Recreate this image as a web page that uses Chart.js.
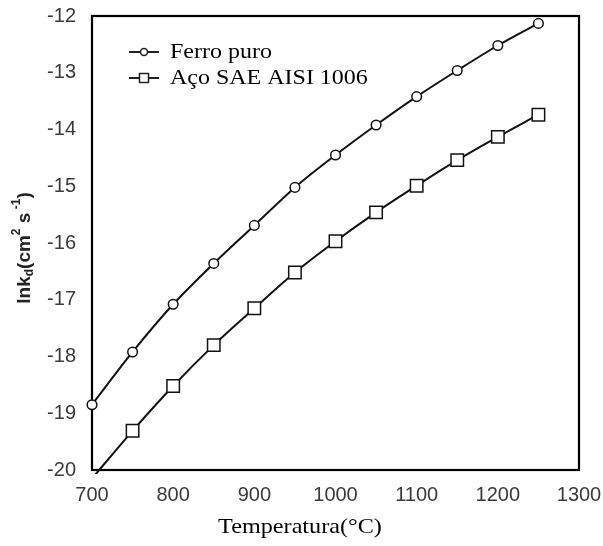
<!DOCTYPE html>
<html>
<head>
<meta charset="utf-8">
<script src="https://cdn.jsdelivr.net/npm/chart.js@4/dist/chart.umd.min.js"></script>
<style>
  html, body { margin: 0; padding: 0; background: #fff; }
  #wrap { width: 603px; height: 546px; }
</style>
</head>
<body>
<div id="wrap"><canvas id="c" width="603" height="546"></canvas></div>
<script>
const temperatures = [700, 750, 800, 850, 900, 950, 1000, 1050, 1100, 1150, 1200, 1250];
const ferroPuro = [-18.85, -17.92, -17.08, -16.36, -15.69, -15.02, -14.45, -13.92, -13.42, -12.96, -12.52, -12.13];
const acoSAE1006 = [-20.15, -19.31, -18.52, -17.80, -17.15, -16.52, -15.97, -15.46, -14.99, -14.54, -14.13, -13.74];
const xTicks = [700, 800, 900, 1000, 1100, 1200, 1300];
const yTicks = [-20, -19, -18, -17, -16, -15, -14, -13, -12];
const seriesNames = ['Ferro puro', 'Aço SAE AISI 1006'];
const xTitle = 'Temperatura(°C)';

const pts = (ys) => temperatures.map((t, i) => ({ x: t, y: ys[i] }));

const frameAndText = {
  id: 'frameAndText',
  beforeDatasetsDraw(chart) {
    const { ctx, chartArea: a } = chart;
    ctx.save();
    ctx.strokeStyle = '#000';
    ctx.lineWidth = 2.2;
    ctx.strokeRect(a.left, a.top, a.right - a.left, a.bottom - a.top);
    ctx.restore();
  },
  afterDraw(chart) {
    const { ctx } = chart;
    ctx.save();
    ctx.fillStyle = '#000';
    ctx.font = '22px "Liberation Serif"';
    ctx.textAlign = 'center';
    ctx.textBaseline = 'middle';
    ctx.save();
    ctx.translate(300, 527);
    ctx.scale(1.1, 1);
    ctx.fillText(xTitle, 0, 0);
    ctx.restore();

    const segs = [
      ['lnk', 0, 19], ['d', 5, 12], ['(cm', 0, 19], ['2', -8, 12],
      [' s', 0, 19], [' -1', -8, 12], [')', 0, 19]
    ];
    let total = 0;
    segs.forEach(s => { ctx.font = 'bold ' + s[2] + 'px "Liberation Sans"'; total += ctx.measureText(s[0]).width; });
    ctx.translate(25, 248);
    ctx.rotate(-Math.PI / 2);
    ctx.textAlign = 'left';
    ctx.textBaseline = 'middle';
    let x = -total / 2;
    segs.forEach(s => {
      ctx.font = 'bold ' + s[2] + 'px "Liberation Sans"';
      ctx.fillStyle = '#222';
      ctx.fillText(s[0], x, s[1]);
      x += ctx.measureText(s[0]).width;
    });
    ctx.restore();

    ctx.save();
    const items = [
      { y: 52, style: 'circle', r: 3.5 },
      { y: 78, style: 'rect' }
    ];
    items.forEach((it, i) => {
      ctx.strokeStyle = '#222';
      ctx.lineWidth = 2;
      ctx.beginPath();
      ctx.moveTo(129, it.y); ctx.lineTo(159, it.y);
      ctx.stroke();
      ctx.fillStyle = '#fff';
      ctx.lineWidth = 1.5;
      ctx.beginPath();
      if (it.style === 'circle') {
        ctx.arc(144, it.y, it.r, 0, Math.PI * 2);
      } else {
        ctx.rect(144 - 4.5, it.y - 4.5, 9, 9);
      }
      ctx.fill(); ctx.stroke();
      ctx.fillStyle = '#000';
      ctx.font = '22px "Liberation Serif"';
      ctx.textAlign = 'left';
      ctx.textBaseline = 'middle';
      ctx.save();
      ctx.translate(170, it.y);
      ctx.scale(1.09, 1);
      ctx.fillText(seriesNames[i], 0, 0);
      ctx.restore();
    });
    ctx.restore();
  }
};

new Chart(document.getElementById('c'), {
  type: 'line',
  data: {
    datasets: [
      {
        label: seriesNames[0],
        data: pts(ferroPuro),
        borderColor: '#111',
        borderWidth: 2,
        pointStyle: 'circle',
        pointRadius: 4.8,
        pointBorderWidth: 1.5,
        pointBackgroundColor: '#fff',
        pointBorderColor: '#111',
        cubicInterpolationMode: 'monotone',
        clip: false
      },
      {
        label: seriesNames[1],
        data: pts(acoSAE1006),
        borderColor: '#111',
        borderWidth: 2,
        pointStyle: 'rect',
        pointRadius: temperatures.map((t, i) => i === 0 ? 0 : 8.8),
        pointBorderWidth: 1.5,
        pointBackgroundColor: '#fff',
        pointBorderColor: '#111',
        cubicInterpolationMode: 'monotone',
        clip: { left: 0, top: 0, right: 0, bottom: 4 }
      }
    ]
  },
  options: {
    responsive: false,
    animation: false,
    layout: { padding: { left: 0, right: 24, top: 16, bottom: 0 } },
    plugins: { legend: { display: false }, tooltip: { enabled: false } },
    scales: {
      x: {
        type: 'linear',
        min: 700, max: 1300,
        afterBuildTicks: (s) => { s.ticks = xTicks.map(v => ({ value: v })); },
        afterFit: (s) => { s.height = 76; s.paddingLeft = 0; s.paddingRight = 0; },
        grid: { display: false, drawOnChartArea: false, drawTicks: true, tickLength: 5, color: '#bbb' },
        border: { display: false },
        ticks: { font: { family: 'Liberation Sans', size: 20 }, color: '#3a3a3a', padding: 8, maxRotation: 0,
                 callback: (v) => String(v) }
      },
      y: {
        min: -20, max: -12,
        afterBuildTicks: (s) => { s.ticks = yTicks.map(v => ({ value: v })); },
        afterFit: (s) => { s.width = 92; s.paddingTop = 0; s.paddingBottom = 0; },
        grid: { display: false, drawOnChartArea: false, drawTicks: true, tickLength: 5, color: '#bbb' },
        border: { display: false },
        ticks: { font: { family: 'Liberation Sans', size: 20 }, color: '#3a3a3a', padding: 11,
                 callback: (v) => String(v) }
      }
    }
  },
  plugins: [frameAndText]
});
</script>
</body>
</html>
